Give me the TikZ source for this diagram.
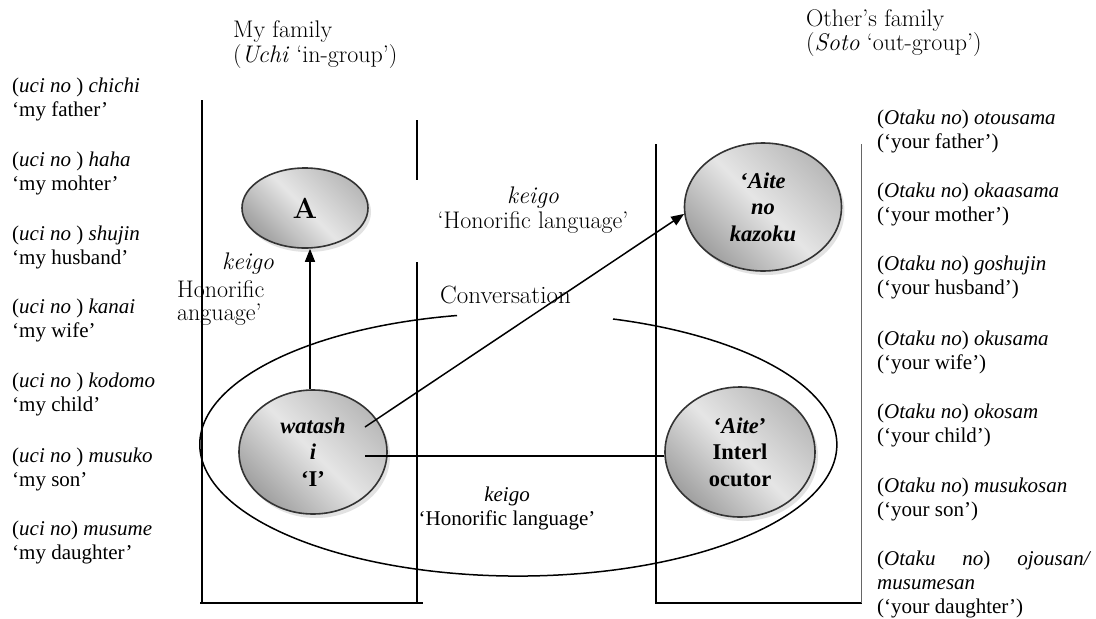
\documentclass[tikz,border=0pt]{standalone}
\usepackage{fontspec}
\newfontfamily\tnr{Liberation Serif}
\usetikzlibrary{arrows.meta,shapes.geometric,shadows,calc}
\begin{document}
\begin{tikzpicture}[x=1pt,y=-1pt,
  ln/.style={line width=1.5pt, line cap=butt},
  thinln/.style={line width=0.8pt, draw=gray!80!black},
  bubble/.style={ellipse, draw=black!80, line width=1.6pt, inner sep=0pt,
    top color=gray!55, bottom color=gray!75, middle color=gray!20, shading angle=-45,
    drop shadow={shadow xshift=3pt, shadow yshift=-4pt, fill=gray!45},
    font=\tnr\bfseries\fontsize{22.5}{26.5}\selectfont, align=center},
  lm/.style={font=\fontsize{24}{25}\selectfont, inner sep=0pt},
  tr/.style={font=\tnr\fontsize{21}{24}\selectfont, align=left, inner sep=0pt},
  arr/.style={ln, -{Triangle[length=13pt,width=10pt]}}
]
\fill[white] (0,0) rectangle (1096,619);
\useasboundingbox (0,0) rectangle (1096,619);

% headings (anchor = baseline of last line)
\node[lm, anchor=base west, align=left] (myfam) at (233,62) {My family\\(\textit{Uchi} ‘in-group’)};
\node[lm, anchor=base west, align=left, font=\fontsize{24}{24}\selectfont] (othfam) at (806,50) {Other’s family\\(\textit{Soto} ‘out-group’)};

% left list
\node[tr, anchor=base west] (l1) at (12,116) {(\textit{uci no} ) \textit{chichi}\\‘my father’};
\node[tr, anchor=base west] (l2) at (12,190) {(\textit{uci no} ) \textit{haha}\\‘my mohter’};
\node[tr, anchor=base west] (l3) at (12,264) {(\textit{uci no} ) \textit{shujin}\\‘my husband’};
\node[tr, anchor=base west] (l4) at (12,337) {(\textit{uci no} ) \textit{kanai}\\‘my wife’};
\node[tr, anchor=base west] (l5) at (12,411) {(\textit{uci no} ) \textit{kodomo}\\‘my child’};
\node[tr, anchor=base west] (l6) at (12,486) {(\textit{uci no} ) \textit{musuko}\\‘my son’};
\node[tr, anchor=base west] (l7) at (12,559) {(\textit{uci no}) \textit{musume}\\‘my daughter’};

% right list
\node[tr, anchor=base west] (r1) at (877,148) {(\textit{Otaku no}) \textit{otousama}\\(‘your father’)};
\node[tr, anchor=base west] (r2) at (877,221) {(\textit{Otaku no}) \textit{okaasama}\\(‘your mother’)};
\node[tr, anchor=base west] (r3) at (877,294) {(\textit{Otaku no}) \textit{goshujin}\\(‘your husband’)};
\node[tr, anchor=base west] (r4) at (877,369) {(\textit{Otaku no}) \textit{okusama}\\(‘your wife’)};
\node[tr, anchor=base west] (r5) at (877,442) {(\textit{Otaku no}) \textit{okosam}\\(‘your child’)};
\node[tr, anchor=base west] (r6) at (877,516) {(\textit{Otaku no}) \textit{musukosan}\\(‘your son’)};
\node[tr, anchor=base west] (r7) at (877,613) {\makebox[214pt][s]{(\textit{Otaku}\hfill\textit{no})\hfill\textit{ojousan/}}\\\textit{musumesan}\\(‘your daughter’)};

% labels
\node[lm, anchor=base, align=center] (kg1) at (533,228) {\textit{keigo}\\‘Honorific language’};
\node[lm, anchor=base west] (kg2) at (222,269) {\textit{keigo}};
\node[lm, anchor=base west, align=left, font=\fontsize{24}{23}\selectfont] (kg2b) at (177,320) {Honorific\\anguage’};
\node[font=\fontsize{25}{26}\selectfont, inner sep=0pt, anchor=base west] (conv) at (440,303) {Conversation};
\node[tr, anchor=base, align=center] (kg3) at (507,525) {\textit{keigo}\\‘Honorific language’};

% boxes
\draw[ln] (202,100) -- (202,603);
\draw[ln] (200,603) -- (423,603);
\draw[ln] (417,120) -- (417,180);
\draw[ln] (417,262) -- (417,604);
\draw[ln] (656,144) -- (656,603) -- (862,603);
\draw[thinln] (861,144) -- (861,603);

% conversation ellipse with gap
\draw[ln] (457,315.5) arc[start angle=101.1, end angle=432.7, x radius=318.5pt, y radius=131.5pt];

% bubbles
\node[bubble, minimum width=126pt, minimum height=80pt, font=\bfseries\fontsize{29}{30}\selectfont] (A) at (305,208) {A};
\node[bubble, minimum width=148pt, minimum height=124pt] (watashi) at (313,452) {\textit{watash}\\\textit{i}\\‘I’};
\node[bubble, minimum width=157pt, minimum height=128pt] (kazoku) at (763,207) {‘\textit{Aite}\\\textit{no}\\\textit{kazoku}};
\node[bubble, minimum width=150pt, minimum height=130pt] (aite) at (740,452) {‘\textit{Aite}’\\Interl\\ocutor};

% connectors
\coordinate (vx) at (310,0);
\coordinate (w1) at (365,427);
\coordinate (w2) at (365,456);
\draw[arr] (watashi.north -| vx) -- (A.south -| vx);
\draw[arr] (w1) -- (kazoku.185);
\draw[ln] (w2) -- (w2 -| aite.west);
\end{tikzpicture}
\end{document}
